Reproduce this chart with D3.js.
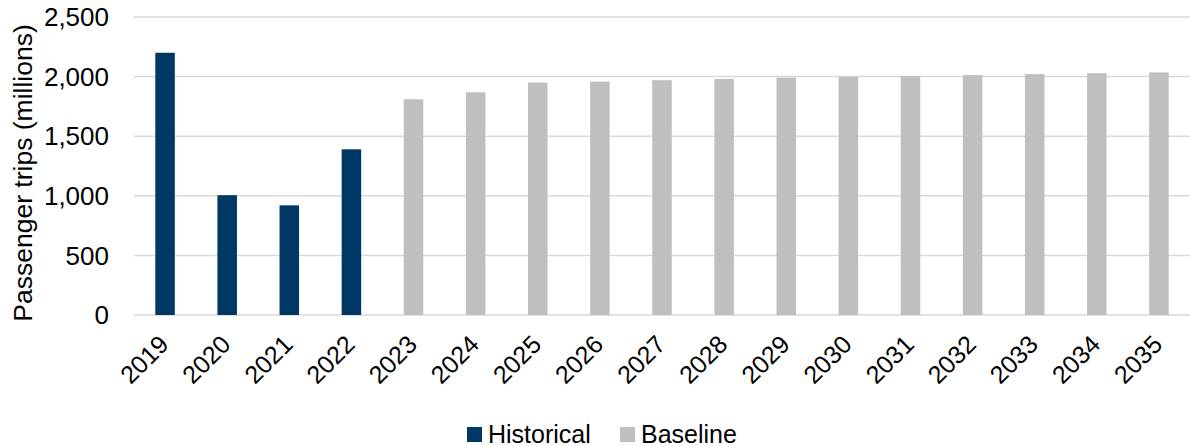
<!DOCTYPE html>
<html>
<head>
<meta charset="utf-8">
<script src="https://cdn.jsdelivr.net/npm/d3@7"></script>
<style>
  html, body { margin: 0; padding: 0; background: #fff; }
  svg { display: block; font-family: "Liberation Sans", Arial, sans-serif; }
</style>
</head>
<body>
<svg id="chart" width="1190" height="446"></svg>
<script>
// Passenger trips by year, in millions
const years = ["2019","2020","2021","2022","2023","2024","2025","2026","2027",
               "2028","2029","2030","2031","2032","2033","2034","2035"];
const historical = [2200, 1005, 920, 1390, null, null, null, null, null,
                    null, null, null, null, null, null, null, null];
const baseline = [null, null, null, null, 1810, 1868, 1950, 1958, 1970,
                  1980, 1991, 1998, 2005, 2013, 2021, 2028, 2035];
const yTicks = [0, 500, 1000, 1500, 2000, 2500];
const seriesNames = ["Historical", "Baseline"];
const seriesColors = ["#003865", "#bfbfbf"];

const svg = d3.select("#chart");
const plotLeft = 134, plotRight = 1190, plotTop = 17, plotBottom = 315;

const x = d3.scaleBand().domain(years).range([plotLeft, plotRight]).padding(0);
const y = d3.scaleLinear().domain([0, 2500]).range([plotBottom, plotTop]);
const barW = x.bandwidth() * 0.314;

// horizontal gridlines
svg.append("g")
  .selectAll("line")
  .data(yTicks)
  .join("line")
  .attr("x1", plotLeft).attr("x2", plotRight)
  .attr("y1", d => y(d)).attr("y2", d => y(d))
  .attr("stroke", "#d9d9d9")
  .attr("stroke-width", 1.5);

// y-axis tick labels
svg.append("g")
  .selectAll("text")
  .data(yTicks)
  .join("text")
  .attr("x", 109)
  .attr("y", d => y(d))
  .attr("dy", "0.35em")
  .attr("text-anchor", "end")
  .attr("font-size", 26)
  .attr("fill", "#000")
  .text(d => d3.format(",")(d));

// y-axis title
svg.append("text")
  .attr("transform", "translate(32,173) rotate(-90)")
  .attr("text-anchor", "middle")
  .attr("font-size", 26.5)
  .attr("fill", "#000")
  .text("Passenger trips (millions)");

// bars
const series = [historical, baseline];
series.forEach((vals, i) => {
  svg.append("g")
    .selectAll("rect")
    .data(years.map((yr, j) => ({ yr, v: vals[j] })).filter(d => d.v != null))
    .join("rect")
    .attr("x", d => x(d.yr) + (x.bandwidth() - barW) / 2)
    .attr("y", d => y(d.v))
    .attr("width", barW)
    .attr("height", d => y(0) - y(d.v))
    .attr("fill", seriesColors[i]);
});

// x-axis labels, rotated
svg.append("g")
  .selectAll("text")
  .data(years)
  .join("text")
  .attr("transform", d => `translate(${x(d) + x.bandwidth() / 2 + 5},346) rotate(-45)`)
  .attr("text-anchor", "end")
  .attr("font-size", 25)
  .attr("fill", "#000")
  .text(d => d);

// legend
const legendX = [467, 620];
const legend = svg.append("g");
seriesNames.forEach((name, i) => {
  legend.append("rect")
    .attr("x", legendX[i]).attr("y", 427)
    .attr("width", 15).attr("height", 15)
    .attr("fill", seriesColors[i]);
  legend.append("text")
    .attr("x", legendX[i] + 21).attr("y", 443)
    .attr("font-size", 25)
    .attr("fill", "#000")
    .text(name);
});
</script>
</body>
</html>
